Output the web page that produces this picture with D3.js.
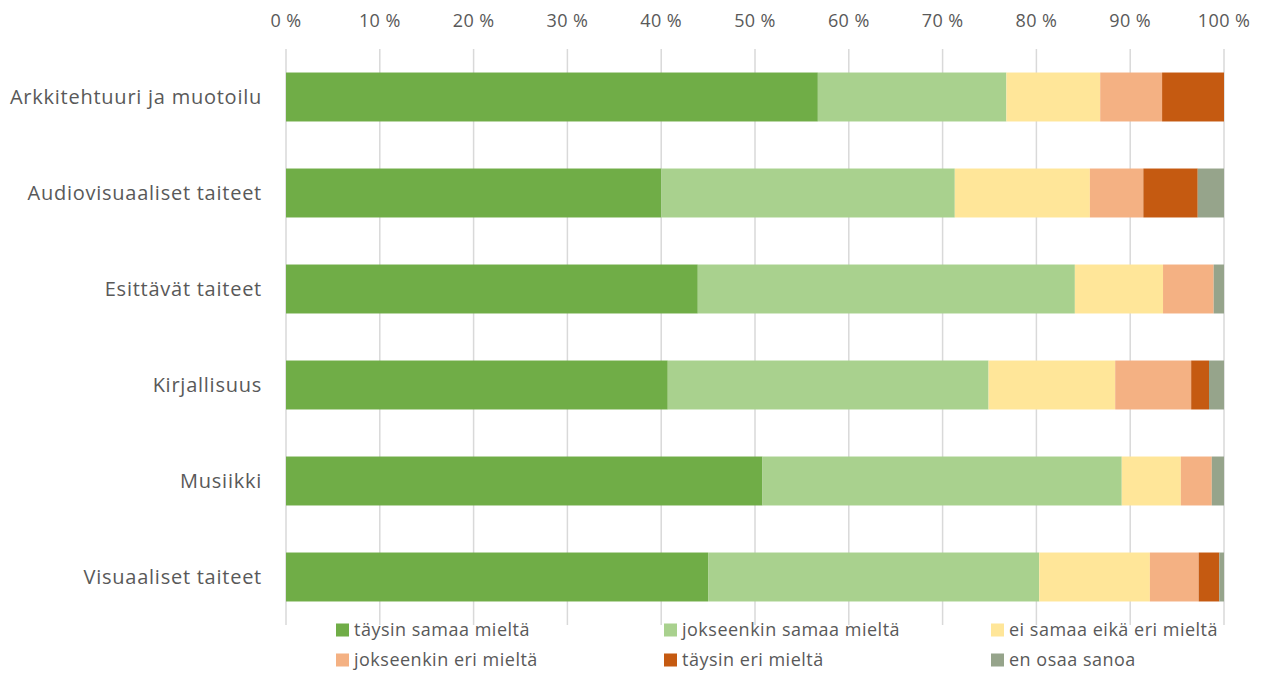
<!DOCTYPE html>
<html>
<head>
<meta charset="utf-8">
<script src="https://cdn.jsdelivr.net/npm/d3@7"></script>
<style>
  body { margin: 0; background: #fff; }
  text { font-family: "Open Sans", Lato, sans-serif; fill: #595959; }
</style>
</head>
<body>
<div id="chart"></div>
<script>
// categories and answer series (shares, %)
var categories = ["Arkkitehtuuri ja muotoilu", "Audiovisuaaliset taiteet", "Esittävät taiteet",
                  "Kirjallisuus", "Musiikki", "Visuaaliset taiteet"];
var seriesNames = ["täysin samaa mieltä", "jokseenkin samaa mieltä", "ei samaa eikä eri mieltä",
                   "jokseenkin eri mieltä", "täysin eri mieltä", "en osaa sanoa"];
var taysinSamaa     = [56.7, 40.0, 43.9, 40.7, 50.8, 45.0];
var jokseenkinSamaa = [20.1, 31.3, 40.2, 34.2, 38.3, 35.3];
var eiSamaaEikaEri  = [10.0, 14.4,  9.4, 13.5,  6.3, 11.8];
var jokseenkinEri   = [ 6.6,  5.7,  5.4,  8.1,  3.3,  5.2];
var taysinEri       = [ 6.6,  5.8,  0.0,  1.9,  0.0,  2.2];
var enOsaa          = [ 0.0,  2.8,  1.1,  1.6,  1.3,  0.5];
var tickValues = [0, 10, 20, 30, 40, 50, 60, 70, 80, 90, 100];

var colors = ["#70AD47", "#A9D18E", "#FFE699", "#F4B183", "#C55A11", "#96A48B"];

var width = 1261, height = 673;

var svg = d3.select("#chart").append("svg")
    .attr("width", width)
    .attr("height", height);

// build rows for the stack
var allSeries = [taysinSamaa, jokseenkinSamaa, eiSamaaEikaEri, jokseenkinEri, taysinEri, enOsaa];
var rows = categories.map(function(c, i) {
  var r = {category: c};
  seriesNames.forEach(function(s, j) { r[s] = allSeries[j][i]; });
  return r;
});

var stacked = d3.stack().keys(seriesNames)(rows);

var x = d3.scaleLinear().domain([0, 100]).range([286, 1224]);
var y = d3.scaleBand().domain(categories).range([49, 625])
    .paddingInner(0.49).paddingOuter(0.245);

// gridlines
svg.append("g").selectAll("line")
  .data(tickValues)
  .enter().append("line")
    .attr("x1", d => x(d)).attr("x2", d => x(d))
    .attr("y1", 49).attr("y2", 625)
    .attr("stroke", "#D9D9D9")
    .attr("stroke-width", 1.5);

// top axis labels
svg.append("g").selectAll("text")
  .data(tickValues)
  .enter().append("text")
    .attr("x", d => x(d))
    .attr("y", 21)
    .attr("dy", "0.35em")
    .attr("text-anchor", "middle")
    .style("font-size", "18px")
    .style("letter-spacing", "0.4px")
    .text(d => d + " %");

// bars
svg.append("g").selectAll("g")
  .data(stacked)
  .enter().append("g")
    .attr("fill", (d, i) => colors[i])
  .selectAll("rect")
  .data(d => d)
  .enter().append("rect")
    .attr("x", d => x(d[0]))
    .attr("width", d => x(d[1]) - x(d[0]))
    .attr("y", d => y(d.data.category))
    .attr("height", y.bandwidth());

// category labels
svg.append("g").selectAll("text")
  .data(categories)
  .enter().append("text")
    .attr("x", 262)
    .attr("y", d => y(d) + y.bandwidth() / 2)
    .attr("dy", "0.35em")
    .attr("text-anchor", "end")
    .style("font-size", "20px")
    .style("letter-spacing", "0.75px")
    .text(d => d);

// legend
var legendX = [336, 664, 991];
var legendY = [630, 660];
var legend = svg.append("g").selectAll("g")
  .data(seriesNames)
  .enter().append("g")
    .attr("transform", (d, i) => "translate(" + legendX[i % 3] + "," + legendY[Math.floor(i / 3)] + ")");

legend.append("rect")
    .attr("x", 0).attr("y", -6.5)
    .attr("width", 13).attr("height", 13)
    .attr("fill", (d, i) => colors[i]);

legend.append("text")
    .attr("x", 18)
    .attr("dy", "0.35em")
    .style("font-size", "18px")
    .style("letter-spacing", "0.5px")
    .text(d => d);
</script>
</body>
</html>
